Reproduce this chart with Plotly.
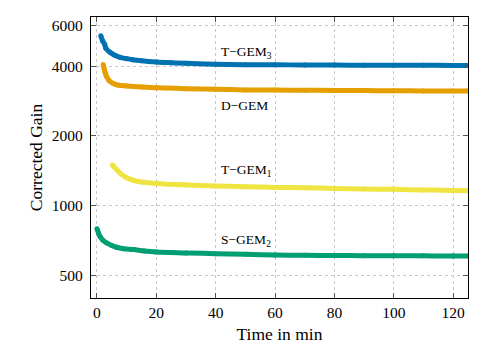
import numpy as np
import plotly.graph_objects as go

# values (time in min, corrected gain)
t_tgem3 = [1.3, 1.9, 2.6, 3.0, 4.4, 6.0, 7.8, 10, 12, 15, 20, 25, 30, 40, 50, 60, 70, 80, 90, 100, 110, 120, 125]
g_tgem3 = [5410, 5150, 4970, 4780, 4590, 4460, 4370, 4310, 4265, 4220, 4170, 4140, 4115, 4080, 4060, 4055, 4050, 4045, 4040, 4038, 4035, 4032, 4030]

t_dgem = [2.1, 2.4, 2.7, 3.0, 3.3, 4.0, 5.5, 7.0, 10, 15, 20, 30, 40, 50, 60, 70, 80, 90, 100, 110, 120, 125]
g_dgem = [4070, 3920, 3780, 3680, 3600, 3480, 3370, 3320, 3285, 3250, 3230, 3200, 3180, 3160, 3155, 3150, 3145, 3140, 3135, 3130, 3127, 3125]

t_tgem1 = [5.2, 6.0, 7.0, 8.0, 10, 12, 15, 20, 30, 40, 50, 60, 70, 80, 90, 100, 110, 120, 125]
g_tgem1 = [1500, 1460, 1415, 1375, 1320, 1290, 1265, 1248, 1230, 1218, 1208, 1200, 1195, 1188, 1182, 1177, 1170, 1165, 1162]

t_sgem2 = [0.0, 0.5, 1.0, 2.0, 3.3, 5.0, 6.6, 9.0, 12.3, 16, 20, 30, 40, 50, 60, 70, 80, 90, 100, 110, 120, 125]
g_sgem2 = [795, 765, 738, 710, 691, 674, 662, 653, 647, 638, 632, 626, 621, 617, 613, 611, 610, 609, 608, 608, 607, 607]

series = [
    ("T\u2212GEM<sub>3</sub>", t_tgem3, g_tgem3, "#0072B2", 4580),
    ("D\u2212GEM", t_dgem, g_dgem, "#E69F00", 2700),
    ("T\u2212GEM<sub>1</sub>", t_tgem1, g_tgem1, "#F0E442", 1413),
    ("S\u2212GEM<sub>2</sub>", t_sgem2, g_sgem2, "#009E73", 706),
]

font_name = "Liberation Serif, Times New Roman, serif"

fig = go.Figure()
for name, t, g, color, label_y in series:
    fig.add_trace(go.Scatter(x=t, y=g, mode="lines+markers", name=name,
                             line=dict(color=color, width=5, shape="spline"),
                             marker=dict(color=color, size=5)))
    fig.add_annotation(x=41, y=np.log10(label_y), text=name, showarrow=False,
                       xanchor="left", yanchor="middle",
                       font=dict(family=font_name, size=13.5, color="black"))

# page body adds ~8px offset, so the figure is a bit smaller than the window
fig.update_layout(
    width=490, height=341,
    margin=dict(l=83, r=30, t=8, b=48),
    plot_bgcolor="white", paper_bgcolor="white",
    showlegend=False,
    font=dict(family=font_name, size=15.5, color="black"),
)
fig.update_xaxes(
    range=[-2, 125], tickvals=[0, 20, 40, 60, 80, 100, 120],
    title=dict(text="Time in min", font=dict(size=17.5), standoff=8),
    showline=True, linecolor="black", linewidth=1.2, mirror="ticks",
    ticks="inside", ticklen=5, tickcolor="#555",
    showgrid=True, gridcolor="#c8c8c8", griddash="dot", gridwidth=1,
    zeroline=False,
)
fig.update_yaxes(
    type="log", range=[np.log10(400), np.log10(6520)],
    tickvals=[500, 1000, 2000, 4000, 6000],
    ticktext=["500", "1000", "2000", "4000", "6000"],
    title=dict(text="Corrected Gain", font=dict(size=17.5), standoff=4),
    ticklabelstandoff=4,
    showline=True, linecolor="black", linewidth=1.2, mirror="ticks",
    ticks="inside", ticklen=5, tickcolor="#555",
    showgrid=True, gridcolor="#c8c8c8", griddash="dot", gridwidth=1,
    zeroline=False,
)

fig.write_html("out.html")
